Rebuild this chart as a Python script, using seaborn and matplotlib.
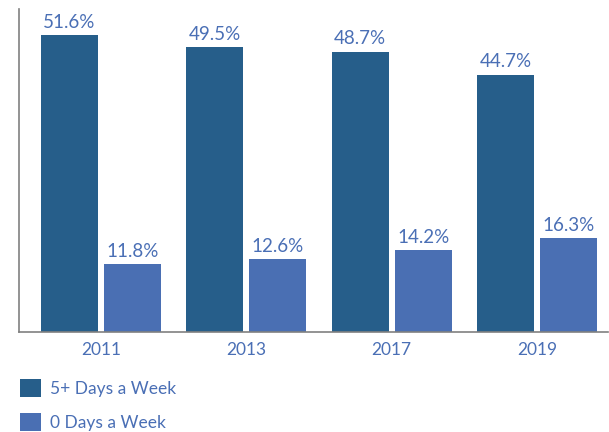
import numpy as np
import pandas as pd
import matplotlib
matplotlib.use("Agg")
import matplotlib.pyplot as plt
import seaborn as sns

years = ["2011", "2013", "2017", "2019"]
five_plus = [51.6, 49.5, 48.7, 44.7]
zero_days = [11.8, 12.6, 14.2, 16.3]
series_names = ["5+ Days a Week", "0 Days a Week"]

DARK = "#265e8a"
LIGHT = "#4a6fb3"
TXT = "#4a6fb5"

sns.set_theme(style="white")
plt.rcParams["font.family"] = ["Lato", "DejaVu Sans"]

df = pd.DataFrame({
    "year": years * 2,
    "pct": five_plus + zero_days,
    "serie": [series_names[0]] * len(years) + [series_names[1]] * len(years),
})

fig = plt.figure(figsize=(6.09, 4.32), dpi=100)
ax = fig.add_axes([19 / 609, 1 - 332 / 432, (608 - 19) / 609, (332 - 9) / 432])

sns.barplot(data=df, x="year", y="pct", hue="serie", hue_order=series_names,
            palette=[DARK, LIGHT], width=0.866, gap=0.095, saturation=1,
            edgecolor="none", linewidth=0, ax=ax)

for cont in ax.containers:
    ax.bar_label(cont, fmt="%.1f%%", padding=3, color=TXT, fontsize=13.5)

ax.set_ylim(0, 56.1)
ax.set_xlim(-0.564, 3.489)
ax.set_yticks([])
ax.set_xlabel(""); ax.set_ylabel("")
ax.tick_params(axis="x", length=0, pad=7, labelsize=12.5, labelcolor=TXT)
for s in ["top", "right"]:
    ax.spines[s].set_visible(False)
for s in ["left", "bottom"]:
    ax.spines[s].set_color("#808080")
    ax.spines[s].set_linewidth(1.2)

h, l = ax.get_legend_handles_labels()
ax.legend_.remove()
fig.legend(h, l, loc="upper left", bbox_to_anchor=(20 / 609, 1 - 379 / 432),
           frameon=False, fontsize=12.5, handlelength=1.2, handleheight=1.2,
           handletextpad=0.5, labelspacing=0.95, borderpad=0, borderaxespad=0,
           labelcolor=TXT)

fig.savefig("out.png", dpi=100)
